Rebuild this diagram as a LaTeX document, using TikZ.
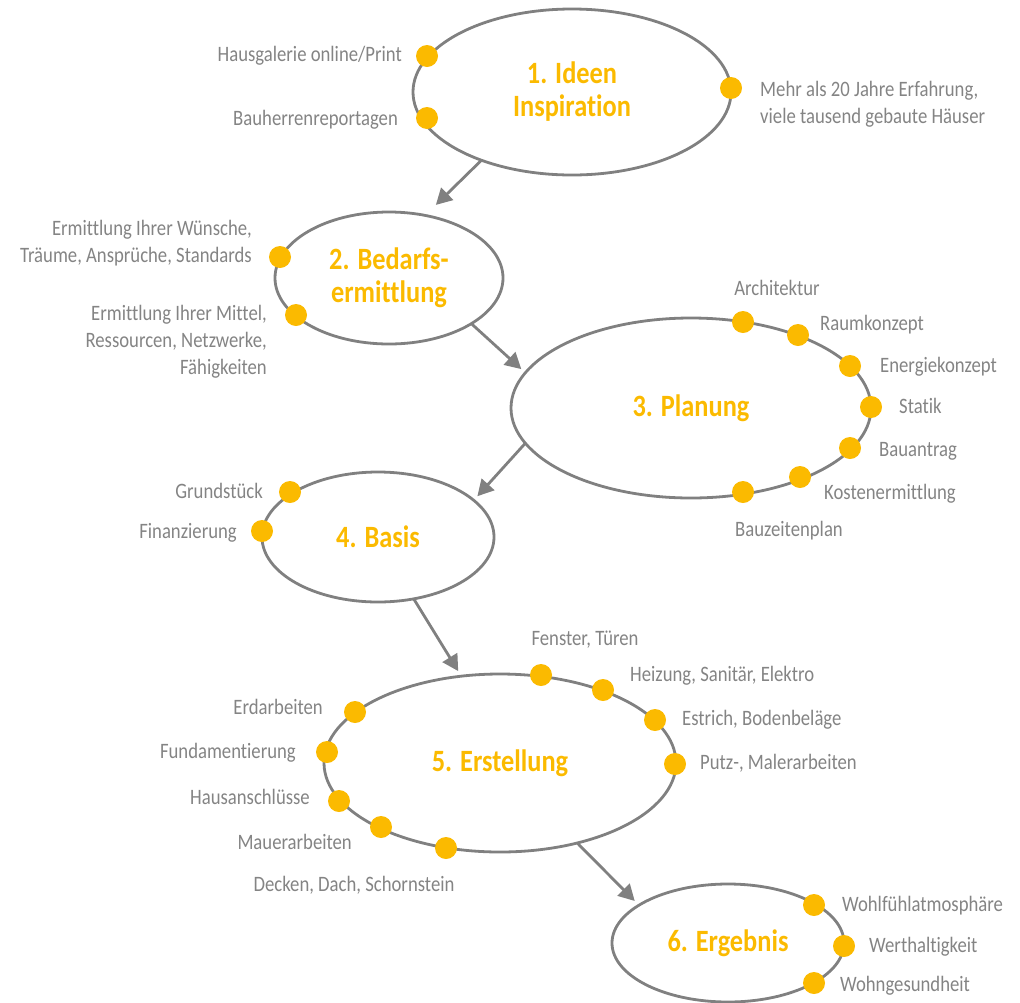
\documentclass[tikz,border=0pt]{standalone}
\usepackage{fontspec}
\setmainfont{Carlito}[FakeStretch=0.85, Ligatures=NoCommon]
\usetikzlibrary{shapes.geometric,arrows.meta}

\definecolor{hausgelb}{RGB}{251,186,0}
\definecolor{hausgrau}{RGB}{128,128,128}
\definecolor{textgrau}{RGB}{132,132,132}

\newcommand\titelschrift{\fontsize{31}{33}\selectfont\bfseries}
\newcommand\merkschrift{\fontsize{22}{27}\selectfont}

\tikzset{
  phase/.style={draw=hausgrau, line width=2.8pt, ellipse, inner sep=0pt, outer sep=0pt,
    text=hausgelb, font=\titelschrift, align=center},
  punkt/.style={circle, fill=hausgelb, minimum size=22pt, inner sep=0pt},
  merk/.style={text=textgrau, font=\merkschrift, inner sep=0pt},
  pfeil/.style={draw=hausgrau, line width=2.8pt, -{Triangle[length=16pt, width=17pt]}}
}

\begin{document}
\begin{tikzpicture}[x=1pt, y=-1pt]
    \useasboundingbox (0, 0) rectangle (1020, 1002);

    % Phasen
    \node [phase, minimum width=318, minimum height=166] (E1) at (572, 92) {1. Ideen\\Inspiration};
    \node [phase, minimum width=228, minimum height=132] (E2) at (389, 278) {2. Bedarfs-\\ermittlung};
    \node [phase, minimum width=360, minimum height=180] (E3) at (691, 408) {3. Planung};
    \node [phase, minimum width=232, minimum height=130] (E4) at (378, 537) {4. Basis};
    \node [phase, minimum width=352, minimum height=178] (E5) at (500, 763) {5. Erstellung};
    \node [phase, minimum width=232, minimum height=118] (E6) at (728, 943) {6. Ergebnis};

    % Pfeile
    \draw [pfeil, shorten >=15pt] (E1.217) -- (E2.60);
    \draw [pfeil, shorten >=5.5pt] (E2.331.6) -- (E3.168);
    \draw [pfeil, shorten >=5.5pt] (E3.192) -- (E4.21.3);
    \draw [pfeil, shorten >=6pt] (E4.300) -- (E5.114);
    \draw [pfeil, shorten >=6pt] (E5.314) -- (E6.157);

    % 1. Ideen
    \node [punkt] (P11) at (427, 56) {};
    \node [punkt] (P12) at (427, 118) {};
    \node [punkt] (P13) at (731, 88) {};
    \node [merk, anchor=base east] (L11) at (402, 61) {Hausgalerie online/Print};
    \node [merk, anchor=base east] (L12) at (398, 125) {Bauherrenreportagen};
    \node [merk, anchor=west, align=left] (L13) at (760, 104) {Mehr als 20 Jahre Erfahrung,\\viele tausend gebaute Häuser};

    % 2. Bedarfsermittlung
    \node [punkt] (P21) at (280, 257) {};
    \node [punkt] (P22) at (296, 315) {};
    \node [merk, anchor=east, align=right] (L21) at (252, 243) {Ermittlung Ihrer Wünsche,\\Träume, Ansprüche, Standards};
    \node [merk, anchor=east, align=right] (L22) at (267, 342) {Ermittlung Ihrer Mittel,\\Ressourcen, Netzwerke,\\Fähigkeiten};

    % 3. Planung
    \node [punkt] (P31) at (743, 322) {};
    \node [punkt] (P32) at (798, 335) {};
    \node [punkt] (P33) at (850, 366) {};
    \node [punkt] (P34) at (871, 407) {};
    \node [punkt] (P35) at (850, 448) {};
    \node [punkt] (P36) at (800, 477) {};
    \node [punkt] (P37) at (743, 492) {};
    \node [merk, anchor=base] (L31) at (777, 295) {Architektur};
    \node [merk, anchor=base west] (L32) at (820, 330) {Raumkonzept};
    \node [merk, anchor=base west] (L33) at (880, 372) {Energiekonzept};
    \node [merk, anchor=base west] (L34) at (899, 413) {Statik};
    \node [merk, anchor=base west] (L35) at (879, 456) {Bauantrag};
    \node [merk, anchor=base west] (L36) at (824, 499) {Kostenermittlung};
    \node [merk, anchor=base west] (L37) at (735, 536) {Bauzeitenplan};

    % 4. Basis
    \node [punkt] (P41) at (290, 492) {};
    \node [punkt] (P42) at (262, 531) {};
    \node [merk, anchor=base east] (L41) at (263, 498) {Grundstück};
    \node [merk, anchor=base east] (L42) at (237, 538) {Finanzierung};

    % 5. Erstellung
    \node [punkt] (P51) at (541, 675) {};
    \node [punkt] (P52) at (603, 690) {};
    \node [punkt] (P53) at (655, 720) {};
    \node [punkt] (P54) at (675, 764) {};
    \node [punkt] (P55) at (355, 712) {};
    \node [punkt] (P56) at (327, 752) {};
    \node [punkt] (P57) at (339, 801) {};
    \node [punkt] (P58) at (381, 827) {};
    \node [punkt] (P59) at (446, 848) {};
    \node [merk, anchor=base] (L51) at (585, 645) {Fenster, Türen};
    \node [merk, anchor=base west] (L52) at (630, 681) {Heizung, Sanitär, Elektro};
    \node [merk, anchor=base west] (L53) at (682, 725) {Estrich, Bodenbeläge};
    \node [merk, anchor=base west] (L54) at (700, 769) {Putz-, Malerarbeiten};
    \node [merk, anchor=base east] (L55) at (323, 714) {Erdarbeiten};
    \node [merk, anchor=base east] (L56) at (296, 758) {Fundamentierung};
    \node [merk, anchor=base east] (L57) at (310, 804) {Hausanschlüsse};
    \node [merk, anchor=base east] (L58) at (352, 849) {Mauerarbeiten};
    \node [merk, anchor=base] (L59) at (354, 891) {Decken, Dach, Schornstein};

    % 6. Ergebnis
    \node [punkt] (P61) at (814, 905) {};
    \node [punkt] (P62) at (844, 946) {};
    \node [punkt] (P63) at (814, 983) {};
    \node [merk, anchor=base west] (L61) at (842, 911) {Wohlfühlatmosphäre};
    \node [merk, anchor=base west] (L62) at (869, 952) {Werthaltigkeit};
    \node [merk, anchor=base west] (L63) at (840, 991) {Wohngesundheit};
\end{tikzpicture}
\end{document}
